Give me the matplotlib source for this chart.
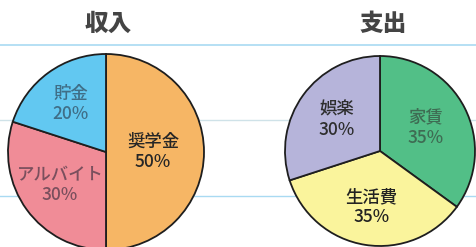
import matplotlib
matplotlib.use("Agg")
import matplotlib.pyplot as plt
import numpy as np

plt.rcParams['font.family'] = ['Noto Sans CJK JP', 'DejaVu Sans']

# data
titles = ["収入", "支出"]
income_labels = ["奨学金", "アルバイト", "貯金"]
income_values = [50, 30, 20]
expense_labels = ["家賃", "生活費", "娯楽"]
expense_values = [35, 35, 30]

income_colors = ["#F6B665", "#F08C97", "#62C8F1"]
expense_colors = ["#52BF87", "#FAF49C", "#B6B4DA"]
income_text = ["#262626", "#7a4f5d", "#3f6e87"]
expense_text = ["#3e6c53", "#222222", "#2e2e2e"]

W, H = 477, 247
fig = plt.figure(figsize=(W / 100, H / 100), dpi=100)

# notebook-like background lines
bg = fig.add_axes([0, 0, 1, 1], zorder=0)
bg.set_xlim(0, W)
bg.set_ylim(H, 0)
bg.axis("off")
bg.axhline(45, color="#A9DAF2", lw=1.2)
bg.axhline(120, color="#CFE2E8", lw=1.0)
bg.axhline(196, color="#A9DAF2", lw=1.0)


def pie_axes(cx, cy, r):
    return fig.add_axes([(cx - r) / W, (H - cy - r) / H, 2 * r / W, 2 * r / H], zorder=1)


def draw_pie(ax, values, labels, colors, tcolors, dists):
    wedges, _ = ax.pie(values, colors=colors, startangle=90, counterclock=False,
                       wedgeprops=dict(edgecolor="#1e1e1e", linewidth=1.3, clip_on=False))
    ax.set_xlim(-1, 1)
    ax.set_ylim(-1, 1)
    for w, lab, v, tc, d in zip(wedges, labels, values, tcolors, dists):
        mid = np.deg2rad((w.theta1 + w.theta2) / 2)
        ax.text(d * np.cos(mid), d * np.sin(mid), f"{lab}\n{v}%", ha="center", va="center",
                fontsize=12.5, fontweight="medium", color=tc, linespacing=1.15)


ax1 = pie_axes(106, 152, 98)
draw_pie(ax1, income_values, income_labels, income_colors, income_text, [0.48, 0.58, 0.61])

ax2 = pie_axes(380, 151, 95)
draw_pie(ax2, expense_values, expense_labels, expense_colors, expense_text, [0.54, 0.60, 0.56])

bg.text(108, 24, titles[0], ha="center", va="center", fontsize=17, fontweight="heavy", color="#444444")
bg.text(383, 24, titles[1], ha="center", va="center", fontsize=17, fontweight="heavy", color="#444444")

fig.savefig("out.png", dpi=100)
